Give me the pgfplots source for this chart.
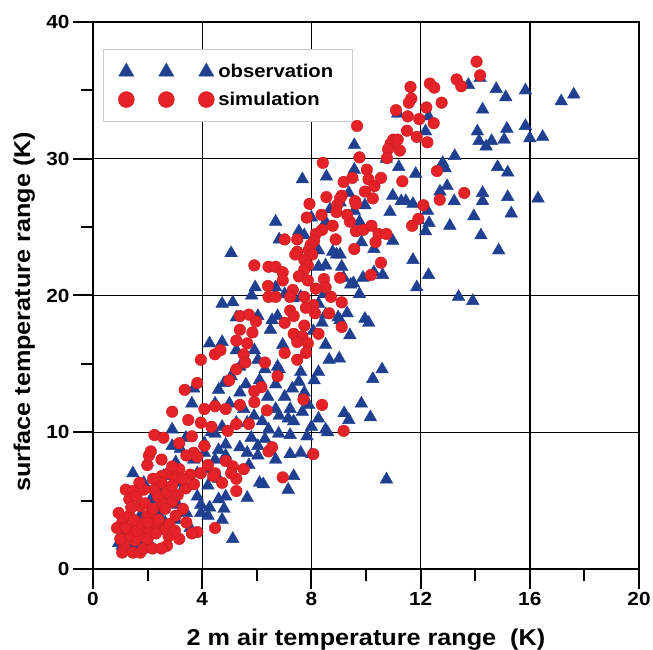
\documentclass[border=0pt]{standalone}
\usepackage{fontspec}
\setmainfont{Liberation Sans}[FakeStretch=1.1]
\usepackage{pgfplots}
\pgfplotsset{compat=1.18}
\definecolor{obsblue}{RGB}{31,63,145}
\definecolor{simred}{RGB}{228,34,40}
\pgfplotsset{
  threemarks/.style={legend image code/.code={\draw[##1, mark size=#1] plot coordinates {(0bp,0bp)(40bp,0bp)(80bp,0bp)};}}
}
\begin{document}
\begin{tikzpicture}
\begin{axis}[
  width=546bp, height=547bp, scale only axis,
  xmin=0, xmax=20, ymin=0, ymax=40,
  xtick={0,4,...,20}, ytick={0,10,...,40},
  minor x tick num=1, minor y tick num=1,
  tick align=outside, tick pos=left,
  major tick length=20bp, minor tick length=12bp,
  every tick/.style={black, line width=2bp},
  axis line style={black, line width=2bp},
  grid=major, major grid style={black, line width=1.4bp},
  /pgf/number format/assume math mode=true,
  ticklabel style={font=\bfseries\fontsize{19}{19}\selectfont},
  xlabel={2 m air temperature range\ \ (K)},
  ylabel={surface temperature range (K)},
  label style={font=\bfseries\fontsize{23}{23}\selectfont},
  xlabel style={at={(axis description cs:0.5,-0.139)}, anchor=base},
  ylabel style={at={(axis description cs:-0.115,0.47)}, anchor=base},
  legend style={at={(0.018,0.951)}, anchor=north west, draw=black!20, line width=1bp,
    fill=white, font=\bfseries\fontsize{18.5}{18.5}\selectfont,
    inner xsep=15bp, inner ysep=13bp, row sep=9bp,
    nodes={inner xsep=4bp}},
  legend cell align=left,
]
\addplot[only marks, mark=triangle*, mark size=7.3bp,
  mark options={fill=obsblue, draw=obsblue, line width=0.4bp},
  threemarks=8.7bp]
coordinates {
(14.18,35.9)(13.75,35.4)(14.77,35.1)(15.12,34.5)(15.84,35.0)(17.15,34.2)(17.61,34.7)(14.27,33.6)
(14.08,32.0)(14.14,31.3)(14.4,30.9)(14.6,31.3)(15.06,31.4)(15.16,32.2)(15.84,32.4)(16.0,31.5)(16.47,31.6)
(12.18,32.0)(12.29,33.1)(11.16,33.3)(9.57,31.0)(10.74,30.0)(11.2,29.4)(11.82,28.9)(12.81,29.7)(12.9,29.3)
(13.25,30.2)(14.82,29.4)(15.19,29.0)(9.57,29.2)(8.55,28.7)(7.67,28.5)(9.5,28.7)(12.97,28.0)(12.71,27.6)
(13.23,26.9)(14.27,27.5)(14.27,26.9)(15.19,27.2)(16.3,27.1)(10.98,27.3)(11.29,26.9)(11.46,26.9)(11.72,26.7)
(12.25,26.2)(10.88,26.1)(11.92,25.5)(12.31,25.3)(12.18,24.7)(13.07,25.1)(13.95,25.8)(14.21,24.4)(15.32,26.0)
(14.86,23.3)(9.37,27.5)(9.05,26.8)(9.57,26.2)(9.96,26.6)(9.76,25.4)(8.68,26.3)(8.52,25.4)(8.0,25.7)
(6.69,25.4)(7.54,24.7)(6.82,24.1)(9.83,23.9)(10.29,23.4)(10.98,24.0)(8.92,23.0)(9.11,22.1)(8.52,22.2)
(8.26,22.1)(9.18,21.3)(9.54,20.9)(9.89,21.3)(10.29,21.7)(10.61,21.5)(11.72,22.6)(12.29,21.5)(11.86,20.6)
(9.44,20.8)(5.06,23.1)(7.74,24.4)(8.26,23.3)(8.78,23.2)(9.05,23.0)(13.39,19.9)(13.91,19.6)(5.94,20.6)
(5.81,20.0)(6.69,20.6)(6.63,19.9)(7.02,20.1)(7.32,19.8)(7.61,19.9)(4.73,19.4)(5.12,19.5)(5.25,18.4)
(6.04,18.5)(6.76,18.5)(8.98,18.4)(9.96,18.3)(9.31,18.7)
(9.76,20.1)(10.1,18.0)(9.41,17.1)(8.52,16.4)(8.65,15.3)(9.02,15.4)(8.26,14.4)(8.1,13.8)(10.59,14.6)
(10.25,13.9)(9.83,12.1)(9.2,11.4)(9.37,10.9)(10.16,11.1)(8.52,10.2)(8.26,11.0)(8.0,10.4)(7.67,11.5)
(7.22,11.7)(7.35,10.8)(7.84,9.7)(7.22,9.8)(7.61,8.5)(7.22,8.4)(8.0,8.4)(8.59,10.0)(10.75,6.55)
(7.35,6.8)(7.15,5.8)(6.24,6.2)(6.1,6.3)(5.65,5.2)(6.69,8.0)(5.12,2.2)(4.73,3.6)(4.8,4.4)(4.27,4.5)
(3.95,4.1)(1.46,7.0)(6.43,10.2)(6.3,9.5)(6.04,9.0)(6.5,8.6)(6.04,8.3)(5.65,8.5)(5.71,7.6)(5.38,8.9)
(4.86,8.3)(4.86,9.1)(6.69,11.7)(6.82,11.2)(7.15,11.0)(7.02,12.6)(7.54,13.7)(7.61,14.4)(6.69,13.5)
(6.82,14.6)(7.74,12.9)(6.1,13.8)(6.3,14.6)(6.04,15.3)(5.91,16.0)(6.5,17.5)(6.56,18.2)(6.76,14.8)
(6.95,16.4)(7.48,17.0)(8.07,17.4)(8.39,18.0)(8.52,18.6)(9.05,18.2)(8.26,19.4)(8.46,20.1)(4.73,16.6)
(4.27,16.5)(5.25,16.0)(5.38,14.8)(5.06,14.1)(4.8,13.6)(4.6,13.1)(4.47,12.1)(5.0,12.1)(5.38,12.9)
(5.52,11.7)(5.25,10.7)(4.73,10.4)(4.47,9.9)(5.65,10.7)(3.69,13.2)(3.62,12.1)(2.9,10.2)(2.9,9.0)
(3.03,7.8)(2.58,6.8)(3.36,6.1)(3.82,5.3)(3.95,4.7)(3.1,4.7)(3.03,3.6)(3.56,3.0)(2.64,3.4)(1.99,7.8)
(1.86,6.3)(2.51,5.6)(1.73,3.9)(1.07,1.7)(1.33,2.4)(0.94,1.9)(4.08,9.2)(4.34,10.0)(4.6,8.7)(4.47,8.0)
(4.21,7.3)(4.6,6.6)(4.21,6.1)(3.82,7.0)(4.86,5.3)(4.6,5.1)(4.21,3.9)(3.42,4.1)(2.38,4.1)(2.12,5.1)
(2.77,4.9)(3.16,6.3)(3.69,8.0)(4.08,8.5)(1.46,1.7)(1.86,1.9)(2.18,1.5)(1.2,2.7)
(5.9,11.2)(6.2,10.8)(5.8,9.6)(6.8,9.9)(7.9,12.0)(6.4,12.6)(5.6,13.5)(7.3,13.2)(3.4,9.6)(3.2,8.8)
};
\addlegendentry{observation}
\addplot[only marks, mark=*, mark size=5.8bp,
  mark options={fill=simred, draw=simred!85!black, line width=0.4bp},
  threemarks=8bp]
coordinates {
(14.05,37.1)(14.18,36.1)(13.32,35.8)(13.49,35.3)(11.63,35.25)(12.34,35.5)(12.5,35.2)(12.77,34.1)
(11.66,34.4)(11.57,34.1)(12.21,33.75)(11.1,33.55)(11.53,33.1)(11.95,32.9)(12.48,32.6)(11.5,32.05)
(11.86,31.6)(12.25,31.2)(9.67,32.4)(11.0,31.4)(10.9,31.1)(10.81,30.7)(10.77,30.05)(11.24,30.6)
(11.16,31.4)(9.76,30.1)(8.42,29.7)(12.6,29.1)(10.03,29.2)(9.5,28.6)(9.18,28.3)(10.09,28.5)(10.31,28.0)
(10.55,28.6)(11.33,28.35)(13.6,27.5)(12.7,27.0)(12.1,26.6)(9.11,27.3)(9.6,26.9)(9.63,26.7)(9.05,27.1)
(9.96,27.6)(10.25,27.1)(8.55,27.2)(7.93,26.7)(8.94,26.6)(8.92,26.1)(8.37,25.9)(7.83,25.7)(9.41,25.4)
(9.31,25.9)(11.92,25.6)(11.69,25.1)(8.78,25.1)(8.39,24.8)(8.16,24.5)(8.1,24.0)(7.97,23.7)(7.9,23.3)
(8.03,23.0)(7.74,22.6)(7.87,22.2)(7.48,23.2)(7.02,24.1)(7.48,24.1)(8.89,24.1)(9.63,24.7)(9.9,24.8)
(10.2,25.1)(10.46,24.5)(10.75,24.5)(10.35,23.9)(9.57,23.4)(10.55,22.4)(10.18,21.5)(9.05,21.3)(8.46,21.2)
(8.52,20.6)(8.16,20.5)(8.72,19.9)(9.11,19.5)(5.91,22.2)(6.43,22.1)(6.69,22.1)(6.95,21.7)(6.95,21.1)
(6.41,20.7)(6.43,19.9)(6.69,19.9)(7.41,23.0)(7.74,21.9)(7.54,21.4)(7.87,21.1)(7.32,20.4)(7.22,19.9)
(7.74,19.9)(8.07,19.3)(8.13,18.7)(7.8,19.1)(5.38,18.5)(5.71,18.6)(7.22,18.9)(7.35,18.5)
(5.97,18.1)(7.02,18.0)(8.65,18.7)(5.84,17.3)(5.38,17.5)(5.25,16.7)(5.65,16.5)(5.52,15.7)(5.58,15.1)
(5.25,14.6)(4.99,13.8)(4.47,15.7)(3.95,15.3)(4.67,16.0)(7.35,17.2)(7.74,17.8)(7.67,17.0)(7.48,16.6)
(7.87,16.5)(7.8,15.8)(7.48,15.3)(7.02,15.8)(8.26,17.2)(9.11,17.7)(6.3,15.1)(6.76,14.1)(6.17,13.3)
(5.91,13.0)(6.37,11.6)(5.91,12.2)(5.38,12.0)(4.86,11.7)(4.47,11.9)(4.08,11.7)(3.82,13.6)(3.36,13.1)
(2.9,11.5)(3.49,10.9)(3.95,10.7)(4.34,10.4)(4.93,10.1)(5.25,10.6)(5.71,10.6)(6.43,8.6)(6.56,8.9)
(6.95,6.7)(7.71,12.4)(8.39,12.0)(8.07,8.4)(9.18,10.1)(2.25,9.8)(2.58,9.6)(3.16,9.2)(3.62,9.7)(4.08,9.0)
(3.69,8.5)(3.82,8.2)(3.42,8.3)(4.21,7.6)(4.47,7.0)(3.95,7.0)(3.56,6.9)(3.16,7.3)(2.77,7.0)(2.51,6.8)
(1.99,7.6)(2.05,8.3)(2.12,8.6)(2.51,8.0)(2.9,7.5)(3.03,6.6)(2.51,6.3)(2.25,5.8)(1.86,5.8)(1.2,5.8)
(1.46,5.7)(4.86,7.9)(5.12,7.5)(5.52,7.3)(5.25,6.6)(5.25,5.7)(5.06,7.0)(4.73,6.3)(4.4,6.8)(0.94,4.1)
(1.07,3.4)(0.88,3.0)(1.33,3.9)(1.73,4.6)(2.12,4.1)(2.51,4.9)(2.9,4.9)(3.29,4.4)(3.42,3.4)(3.82,2.7)
(3.62,2.6)(3.16,2.2)(2.77,2.4)(2.64,2.9)(2.25,3.2)(1.99,2.8)(1.73,2.4)(1.53,2.1)(1.27,2.4)(1.14,1.7)
(1.46,1.2)(1.73,1.2)(1.86,1.5)(2.18,1.5)(1.07,1.2)(1.33,5.1)(1.59,5.3)(2.38,5.3)(2.64,4.4)(1.99,3.9)
(1.59,3.2)(3.03,3.9)(4.47,3.0)(2.71,1.7)(2.51,1.5)
(1.0,2.2)(1.2,3.0)(1.6,2.8)(1.8,3.3)(2.0,2.2)(2.3,2.6)(2.4,3.6)(2.8,3.3)(3.0,2.8)(1.4,4.5)(1.9,4.8)
(2.2,4.4)(2.7,5.6)(3.1,5.4)(2.9,6.1)(3.4,5.9)(3.7,6.2)(3.3,6.6)(2.2,6.6)(1.7,6.3)(1.5,3.6)(2.0,3.4)
};
\addlegendentry{simulation}
\end{axis}
\pgfresetboundingbox
\path[use as bounding box] ([shift={(-93bp,-81bp)}]current axis.south west) rectangle ([shift={(14bp,22bp)}]current axis.north east);
\end{tikzpicture}
\end{document}
